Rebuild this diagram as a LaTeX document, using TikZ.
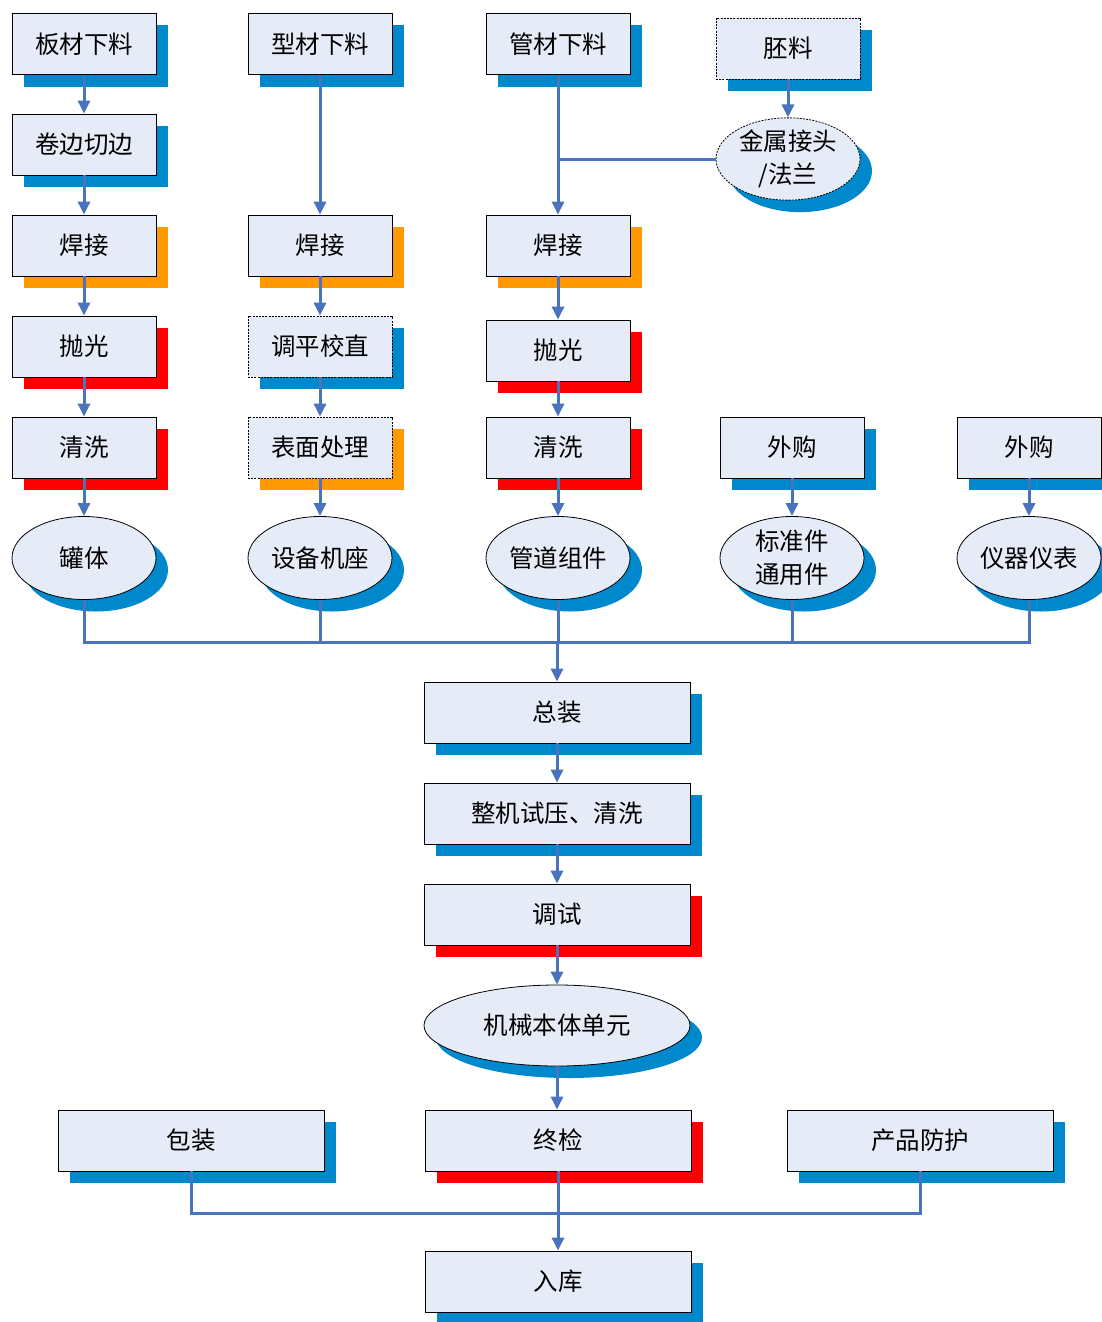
\documentclass[tikz,border=0pt]{standalone}
\usepackage{fontspec}
\setmainfont{Noto Sans CJK SC}
\usetikzlibrary{shapes.geometric,shadows,arrows.meta}
\definecolor{boxfill}{HTML}{E6ECF7}
\definecolor{shblue}{HTML}{0088CC}
\definecolor{shorange}{HTML}{FF9900}
\definecolor{shred}{HTML}{FF0000}
\definecolor{flow}{HTML}{4A73BE}
\tikzset{
  base/.style={draw=black, line width=0.8pt, fill=boxfill, inner sep=0pt,
    align=center, font=\fontsize{24.5}{33}\selectfont},
  box/.style={base, rectangle, minimum width=144pt, minimum height=61pt},
  widebox/.style={box, minimum width=266pt},
  oval/.style={base, ellipse, minimum width=144pt, minimum height=83pt},
  dotline/.style={dash pattern=on 2pt off 1.2pt},
  sblue/.style={drop shadow={shadow xshift=12pt, shadow yshift=-12pt, fill=shblue, opacity=1}},
  sorange/.style={drop shadow={shadow xshift=12pt, shadow yshift=-12pt, fill=shorange, opacity=1}},
  sred/.style={drop shadow={shadow xshift=12pt, shadow yshift=-12pt, fill=shred, opacity=1}},
  flowline/.style={draw=flow, line width=3pt},
  arr/.style={flowline, -{Triangle[length=13pt,width=12pt]}}
}
\begin{document}
\begin{tikzpicture}[x=1pt, y=-1pt]
\useasboundingbox (0,0) rectangle (1102,1322);

% column 1: sheet material
\node[box, sblue]   (a1) at (84,44)    {板材下料};
\node[box, sblue]   (a2) at (84,144.5) {卷边切边};
\node[box, sorange] (a3) at (84,245.5) {焊接};
\node[box, sred]    (a4) at (84,346.5) {抛光};
\node[box, sred]    (a5) at (84,447.5) {清洗};
\node[oval, sblue]  (a6) at (84,558)   {罐体};

% column 2: profiles
\node[box, sblue]            (b1) at (320,44)    {型材下料};
\node[box, sorange]          (b3) at (320,245.5) {焊接};
\node[box, sblue, dotline]   (b4) at (320,346.5) {调平校直};
\node[box, sorange, dotline] (b5) at (320,447.5) {表面处理};
\node[oval, sblue]           (b6) at (320,558)   {设备机座};

% column 3: pipes
\node[box, sblue]   (c1) at (558,44)    {管材下料};
\node[box, sorange] (c3) at (558,245.5) {焊接};
\node[box, sred]    (c4) at (558,350.5) {抛光};
\node[box, sred]    (c5) at (558,447.5) {清洗};
\node[oval, sblue]  (c6) at (558,558)   {管道组件};

% blanks and fittings
\node[box, sblue, dotline]  (d1) at (788,48.5) {胚料};
\node[oval, sblue, dotline, minimum height=82pt] (d2) at (788,159) {金属接头\\/法兰};

% purchased parts
\node[box, sblue]  (e1) at (792,447.5)  {外购};
\node[oval, sblue] (e2) at (792,558)    {标准件\\通用件};
\node[box, sblue]  (f1) at (1029,447.5) {外购};
\node[oval, sblue] (f2) at (1029,558)   {仪器仪表};

% assembly line
\node[widebox, sblue] (g1) at (557,712.5) {总装};
\node[widebox, sblue] (g2) at (557,813.5) {整机试压、清洗};
\node[widebox, sred]  (g3) at (557,914.5) {调试};
\node[oval, sblue, minimum width=266pt, minimum height=81pt] (g4) at (557,1025.5) {机械本体单元};
\node[widebox, sred]  (g5) at (558,1140.5) {终检};
\node[widebox, sblue] (h1) at (191,1140.5) {包装};
\node[widebox, sblue] (h2) at (920,1140.5) {产品防护};
\node[widebox, sblue] (g6) at (558,1281.5) {入库};

\coordinate (busA) at (557,642);
\coordinate (busB) at (558,1213);

% flow arrows
\draw[arr] (a1) -- (a2);
\draw[arr] (a2) -- (a3);
\draw[arr] (a3) -- (a4);
\draw[arr] (a4) -- (a5);
\draw[arr] (a5) -- (a6);

\draw[arr] (b1) -- (b3);
\draw[arr] (b3) -- (b4);
\draw[arr] (b4) -- (b5);
\draw[arr] (b5) -- (b6);

\draw[arr] (c1) -- (c3);
\draw[flowline] (d2.west) -- (d2.west -| c1.south);
\draw[arr] (c3) -- (c4);
\draw[arr] (c4) -- (c5);
\draw[arr] (c5) -- (c6);

\draw[arr] (d1) -- (d2);
\draw[arr] (e1) -- (e2);
\draw[arr] (f1) -- (f2);

% collecting bus to final assembly
\draw[flowline] (a6.south) -- (a6.south |- busA) -- (f2.south |- busA) -- (f2.south);
\draw[flowline] (b6.south) -- (b6.south |- busA);
\draw[flowline] (e2.south) -- (e2.south |- busA);
\draw[flowline] (c6.south) -- (c6.south |- busA);
\draw[arr] (busA) -- (g1.north);

\draw[arr] (g1) -- (g2);
\draw[arr] (g2) -- (g3);
\draw[arr] (g3) -- (g4);
\draw[arr] (g4.south) -- (g4.south |- g5.north);

% packaging and protection join into storage
\draw[flowline] (h1.south) -- (h1.south |- busB) -- (h2.south |- busB) -- (h2.south);
\draw[arr] (g5) -- (g6);
\end{tikzpicture}
\end{document}
